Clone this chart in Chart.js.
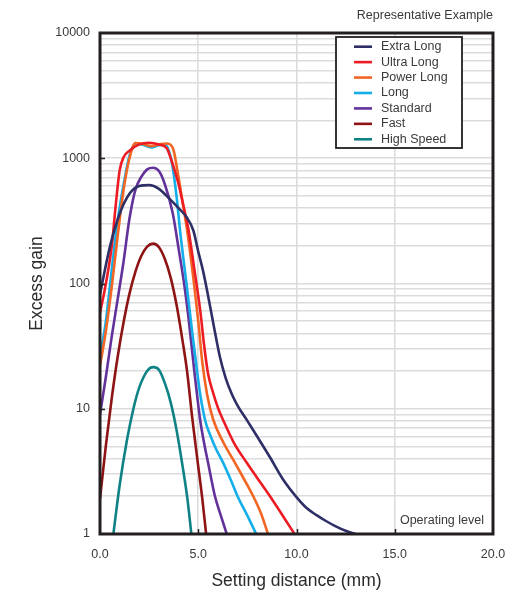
<!DOCTYPE html>
<html>
<head>
<meta charset="utf-8">
<script src="https://cdn.jsdelivr.net/npm/chart.js@4/dist/chart.umd.min.js"></script>
<style>
html,body{margin:0;padding:0;background:#fff;}
#wrap{width:513px;height:597px;position:relative;}
</style>
</head>
<body>
<div id="wrap"><canvas id="c" width="513" height="597"></canvas></div>
<script>
// ---- Data ----
const seriesNames = ['Extra Long','Ultra Long','Power Long','Long','Standard','Fast','High Speed'];
const seriesColors = ['#2e2f66','#ed1c24','#f26522','#14aee8','#62319a','#8e1414','#0f8286'];

const extraLongX = [0, 0.5, 1.0, 1.5, 2.0, 2.5, 3.0, 3.5, 4.0, 4.4, 4.75, 5.0, 5.25, 5.5, 5.8, 6.1, 6.4, 6.7, 7.0, 7.5, 8.0, 8.65, 9.3, 10.0, 10.5, 11.0, 11.5, 12.0, 12.5, 13.0];
const extraLongY = [82, 195, 360, 520, 600, 610, 570, 480, 400, 340, 265, 180, 125, 80, 45, 26, 17.5, 13.2, 10.6, 8.0, 6.0, 4.1, 2.75, 1.97, 1.62, 1.42, 1.27, 1.15, 1.06, 1.0];

const ultraLongX = [0, 0.3, 0.6, 0.8, 1.0, 1.2, 1.5, 2.0, 2.5, 3.0, 3.4, 3.6, 3.8, 4.0, 4.2, 4.5, 4.8, 5.1, 5.3, 5.5, 5.75, 6.0, 6.27, 6.8, 7.47, 8.0, 8.65, 9.3, 9.9];
const ultraLongY = [58, 100, 200, 420, 800, 1020, 1150, 1290, 1330, 1290, 1200, 1000, 800, 620, 450, 270, 130, 61, 32, 19, 13.5, 10.2, 8.1, 5.4, 3.7, 2.8, 2.0, 1.4, 1.0];

const powerLongX = [0, 0.3, 0.6, 0.9, 1.2, 1.5, 1.8, 2.2, 2.6, 3.0, 3.4, 3.6, 3.75, 3.95, 4.2, 4.43, 4.8, 5.0, 5.2, 5.45, 5.75, 6.3, 6.87, 7.3, 7.8, 8.2, 8.55];
const powerLongY = [22, 42, 95, 240, 560, 1000, 1320, 1300, 1250, 1290, 1310, 1280, 1150, 780, 450, 268, 95, 50, 24, 13, 8.3, 5.3, 3.7, 2.8, 2.0, 1.45, 1.0];

const longX = [0, 0.3, 0.6, 0.9, 1.25, 1.5, 1.8, 2.2, 2.6, 3.0, 3.3, 3.5, 3.66, 3.9, 4.07, 4.4, 4.7, 4.94, 5.1, 5.35, 5.6, 5.9, 6.27, 6.7, 7.0, 7.5, 7.95];
const longY = [26, 50, 130, 320, 680, 1050, 1300, 1280, 1220, 1270, 1290, 1150, 920, 490, 268, 100, 40, 20, 13, 8.1, 6.2, 4.8, 3.7, 2.6, 2.0, 1.4, 1.0];

const standardX = [0, 0.3, 0.6, 0.9, 1.2, 1.5, 1.8, 2.1, 2.4, 2.7, 3.0, 3.3, 3.7, 4.0, 4.3, 4.5, 4.8, 5.1, 5.3, 5.5, 5.85, 6.15, 6.45];
const standardY = [9, 18, 38, 75, 150, 330, 560, 710, 815, 840, 790, 620, 365, 190, 95, 54, 20, 8.1, 5.3, 3.7, 2.0, 1.4, 1.0];

const fastX = [0, 0.3, 0.6, 0.9, 1.2, 1.5, 1.8, 2.1, 2.4, 2.7, 3.0, 3.3, 3.6, 3.9, 4.2, 4.43, 4.7, 4.95, 5.2, 5.4];
const fastY = [1.9, 5.1, 12.2, 26, 49, 83, 124, 166, 197, 208, 195, 157, 111, 67, 35, 20, 8.3, 4.0, 1.95, 1.0];

const highSpeedX = [0.68, 1.0, 1.37, 1.7, 2.0, 2.4, 2.7, 3.0, 3.3, 3.6, 3.9, 4.2, 4.45, 4.65];
const highSpeedY = [1.0, 2.45, 5.6, 10, 14.8, 20, 21.5, 20.5, 16, 11.2, 6.7, 3.5, 1.9, 1.0];

const xTickValues = [0, 5, 10, 15, 20];
const xTickLabels = ['0.0', '5.0', '10.0', '15.0', '20.0'];
const yGridValues = [1,2,3,4,5,6,7,8,9,10,20,30,40,50,60,70,80,90,100,200,300,400,500,600,700,800,900,1000,2000,3000,4000,5000,6000,7000,8000,9000,10000];
const yTickLabels = {1:'1', 10:'10', 100:'100', 1000:'1000', 10000:'10000'};

const xs = [extraLongX, ultraLongX, powerLongX, longX, standardX, fastX, highSpeedX];
const ys = [extraLongY, ultraLongY, powerLongY, longY, standardY, fastY, highSpeedY];

const FONT = '"Liberation Sans", Arial, sans-serif';
const TEXT = '#3a3a3a';

const datasets = seriesNames.map((name, i) => ({
  label: name,
  data: xs[i].map((x, j) => ({x: x, y: ys[i][j]})),
  borderColor: seriesColors[i],
  backgroundColor: seriesColors[i],
  borderWidth: 2.6,
  pointRadius: 0,
  fill: false,
  cubicInterpolationMode: 'monotone'
}));

const overlay = {
  id: 'overlay',
  afterDatasetsDraw(chart) {
    const ctx = chart.ctx;
    const a = chart.chartArea;
    const xS = chart.scales.x, yS = chart.scales.y;
    ctx.save();
    ctx.strokeStyle = '#231f20';
    ctx.lineWidth = 1.5;
    [10, 100, 1000].forEach(v => {
      const py = Math.round(yS.getPixelForValue(v)) + 0.5;
      ctx.beginPath(); ctx.moveTo(a.left, py); ctx.lineTo(a.left + 5, py); ctx.stroke();
    });
    [5, 10, 15].forEach(v => {
      const px = Math.round(xS.getPixelForValue(v)) + 0.5;
      ctx.beginPath(); ctx.moveTo(px, a.bottom); ctx.lineTo(px, a.bottom - 5); ctx.stroke();
    });
    ctx.lineWidth = 3;
    ctx.strokeStyle = '#231f20';
    ctx.strokeRect(a.left, a.top, a.right - a.left, a.bottom - a.top);

    const bx = 336, by = 37, bw = 126, bh = 111;
    ctx.fillStyle = '#fff';
    ctx.fillRect(bx, by, bw, bh);
    ctx.lineWidth = 1.8;
    ctx.strokeStyle = '#231f20';
    ctx.strokeRect(bx, by, bw, bh);
    ctx.font = '12.5px ' + FONT;
    ctx.textBaseline = 'middle';
    ctx.textAlign = 'left';
    chart.data.datasets.forEach((ds, i) => {
      const ry = 46.7 + i * 15.43;
      ctx.strokeStyle = ds.borderColor;
      ctx.lineWidth = 2.6;
      ctx.beginPath(); ctx.moveTo(354, ry); ctx.lineTo(372, ry); ctx.stroke();
      ctx.fillStyle = TEXT;
      ctx.fillText(ds.label, 381, ry);
    });

    ctx.font = '12.5px ' + FONT;
    ctx.fillStyle = TEXT;
    ctx.textAlign = 'right';
    ctx.fillText('Representative Example', 493, 16);
    ctx.fillText('Operating level', 484, 521);
    ctx.restore();
  }
};

new Chart(document.getElementById('c'), {
  type: 'line',
  data: { datasets: datasets },
  plugins: [overlay],
  options: {
    responsive: false,
    animation: false,
    devicePixelRatio: 1,
    layout: { padding: { left: 0, right: 20, top: 33, bottom: 0 } },
    plugins: { legend: { display: false }, tooltip: { enabled: false } },
    scales: {
      x: {
        type: 'linear',
        min: 0, max: 20,
        afterFit(s) { s.height = 63; s.paddingRight = 0; s.paddingLeft = 0; },
        afterBuildTicks(s) { s.ticks = xTickValues.map(v => ({value: v})); },
        ticks: {
          autoSkip: false,
          maxRotation: 0,
          padding: 13,
          color: TEXT,
          font: { family: FONT, size: 12.5 },
          callback: (v) => xTickLabels[xTickValues.indexOf(v)]
        },
        grid: { color: '#dcdcdc', lineWidth: 1.6, drawTicks: false },
        border: { display: false },
        title: {
          display: true,
          text: 'Setting distance (mm)',
          color: '#2a2a2a',
          font: { family: FONT, size: 17.5 },
          padding: { top: 0, bottom: 5 }
        }
      },
      y: {
        type: 'logarithmic',
        min: 1, max: 10000,
        afterFit(s) { s.width = 100; s.paddingTop = 0; s.paddingBottom = 0; },
        afterBuildTicks(s) { s.ticks = yGridValues.map(v => ({value: v})); },
        ticks: {
          autoSkip: false,
          padding: 10,
          color: TEXT,
          font: { family: FONT, size: 12.5 },
          callback: (v) => (yTickLabels[v] !== undefined ? yTickLabels[v] : '')
        },
        grid: { color: '#dcdcdc', lineWidth: 1.6, drawTicks: false },
        border: { display: false },
        title: {
          display: true,
          text: 'Excess gain',
          color: '#2a2a2a',
          font: { family: FONT, size: 17.5 },
          padding: { top: 27, bottom: 0 }
        }
      }
    }
  }
});
</script>
</body>
</html>
